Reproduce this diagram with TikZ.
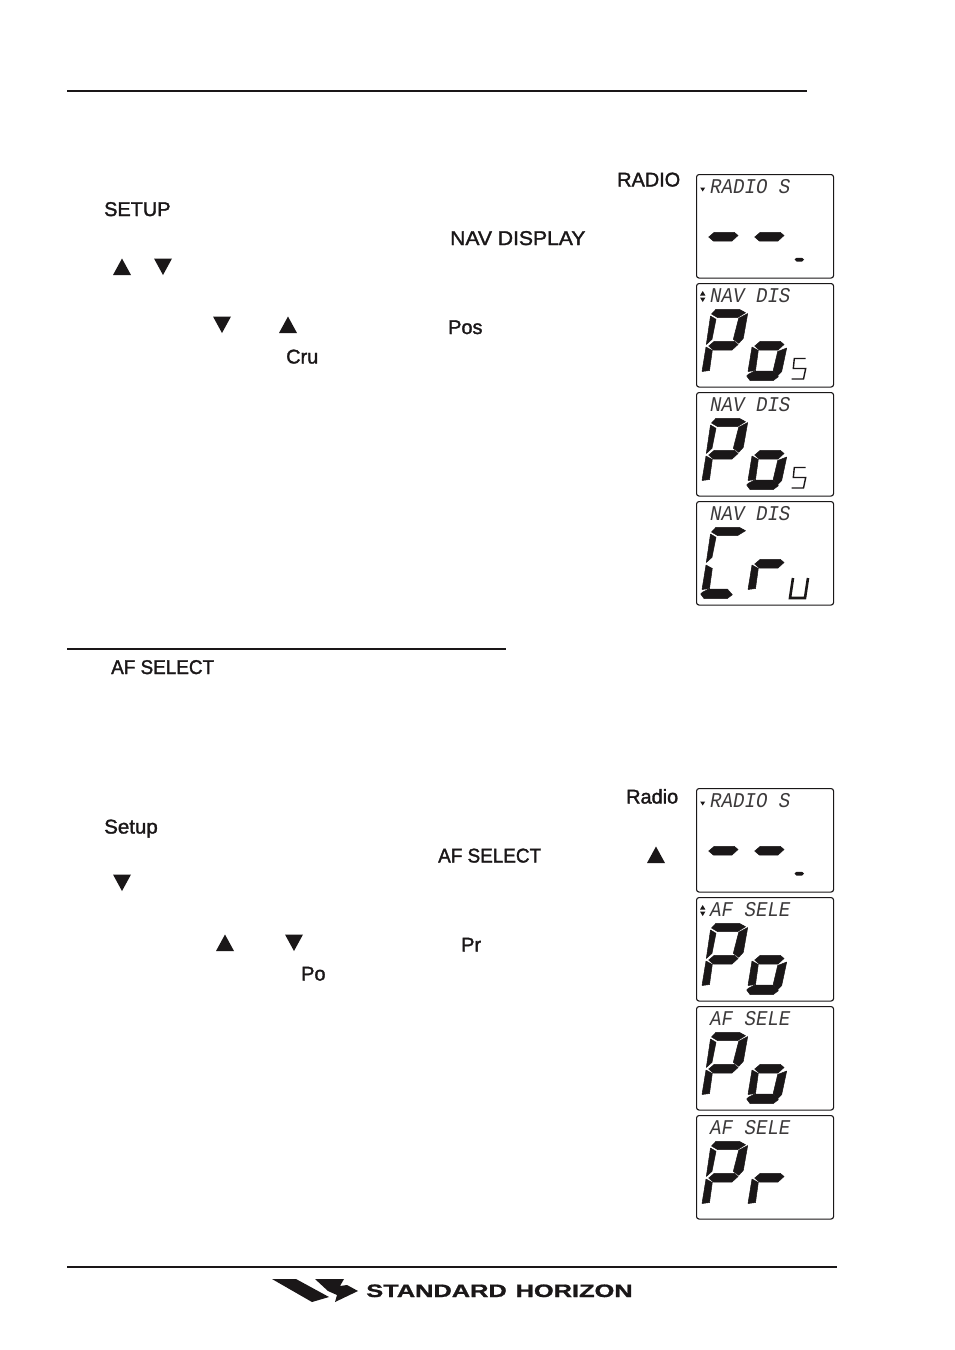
\documentclass[tikz,border=0pt]{standalone}
\usepackage{fontspec}
\setmainfont{Liberation Sans}
\newfontfamily\manualfont[FakeBold=1.6]{Liberation Sans}
\newfontfamily\logofont[FakeBold=1]{Liberation Sans Bold}
\newfontfamily\lcdfont{Liberation Mono Italic}
\definecolor{ink}{HTML}{1A1718}
\newcommand{\sA}{(15.5,31)--(20,26.3)--(43.3,26.3)--(49.5,29.7)--(41.7,34.5)--(21.5,34.5)--cycle}
\newcommand{\sB}{(51.7,30.5)--(47.3,55.3)--(42.7,60.3)--(37.3,56.3)--(42.7,35.3)--cycle}
\newcommand{\sF}{(14.5,33)--(20,36.3)--(16,56.3)--(10.3,61.5)--cycle}
\newcommand{\sG}{(12.7,63)--(18.3,58.3)--(38.3,58.3)--(42,61.5)--(36,67)--(17.3,67)--cycle}
\newcommand{\sE}{(10,64)--(16.3,67.5)--(13.5,87.5)--(6,88.5)--cycle}
\newcommand{\sC}{(44.7,65)--(39.7,88.5)--(35.7,92.7)--(31.3,87)--(35.7,68.5)--cycle}
\newcommand{\sD}{(6.3,91.3)--(13,88)--(31.3,88)--(36.3,93.7)--(31.3,97.5)--(8,97.5)--(4.7,93)--cycle}
\newcommand{\digit}[3]{\filldraw[lcdseg,shift={(#1,#2)}] #3;}
\newcommand{\lcdbox}[4]{%
  \node[screen] (#1) at (696,#2) {};
  \begin{scope}[shift={(696,#2)}]
    \node[lcdtext] (#1label) at (14,13) {#3};
    #4
  \end{scope}}
\newcommand{\arrowdown}{\fill[ink] (4,14.5)--(9.4,14.5)--(6.7,19)--cycle;}
\newcommand{\arrowup}{\fill[ink] (4,12.5)--(9.4,12.5)--(6.7,8)--cycle;}
\newcommand{\fives}{\draw[smallseg] (109.7,75.5)--(98.3,75.5)--(97.3,85.5)--(109.7,85.5)--(107.5,96)--(95.5,96);}
\newcommand{\dashes}{\digit{0}{0}{\sG}\digit{46}{0}{\sG}\fill[ink] (98.5,85.5)--(100.5,83.8)--(106,83.8)--(108,85.5)--(106,87.5)--(100.5,87.5)--cycle;}
\tikzset{
  manual/.style={anchor=base west,inner sep=0pt,text=ink,font=\fontsize{19.9}{20}\manualfont},
  rule/.style={draw=ink,line width=2pt},
  screen/.style={draw=ink,fill=white,line width=1.1pt,rounded corners=2.5pt,anchor=north west,minimum width=137pt,minimum height=103.5pt,inner sep=0pt},
  lcdtext/.style={anchor=west,inner sep=0pt,text=ink!85,font=\fontsize{21}{21}\lcdfont,xscale=.91,transform shape},
  lcdseg/.style={fill=ink,draw=ink,line width=0.5pt,line join=round},
  smallseg/.style={draw=ink,line width=1.4pt},
  tri/.style={fill=ink},
  wide/.style={xscale=#1,transform shape}
}
\newcommand{\triup}[2]{\fill[tri] (#1-9,#2+8)--(#1+9,#2+8)--(#1,#2-8.5)--cycle;}
\newcommand{\tridown}[2]{\fill[tri] (#1-9,#2-8.5)--(#1+9,#2-8.5)--(#1,#2+8)--cycle;}
\begin{document}
\begin{tikzpicture}[x=1pt,y=-1pt]
\useasboundingbox (0,0) rectangle (954,1350);
\fill[white] (0,0) rectangle (954,1350);
% rules
\draw[rule] (67,91)--(807,91);
\draw[rule] (67,649)--(506,649);
\draw[rule] (67,1267)--(837,1267);
% text, first section
\node[manual] (radio) at (617,186.5) {RADIO};
\node[manual] (setup) at (104,216) {SETUP};
\node[manual,wide=1.06] (navdisplay) at (450,245) {NAV DISPLAY};
\node[manual] (pos) at (448,334) {Pos};
\node[manual] (cru) at (286,363.5) {Cru};
\triup{122}{267}
\tridown{163}{267}
\tridown{222}{325}
\triup{288}{325}
% second section
\node[manual,wide=.95] (afselect) at (111,674) {AF SELECT};
\node[manual] (radiob) at (626,803.5) {Radio};
\node[manual,wide=1.03] (setupb) at (104,833.5) {Setup};
\node[manual,wide=.95] (afselectb) at (438,862.5) {AF SELECT};
\node[manual] (pr) at (461,951.5) {Pr};
\node[manual] (po) at (301,980.5) {Po};
\triup{656}{855}
\tridown{122}{883}
\triup{225}{943}
\tridown{294}{943}
% screens
\lcdbox{s1}{174}{RADIO S}{\fill[ink] (4.2,13.5)--(9.2,13.5)--(6.7,17.5)--cycle; \dashes}
\lcdbox{s2}{283}{NAV DIS}{\arrowup\arrowdown
  \digit{0}{0}{\sA \sB \sF \sG \sE}
  \digit{46}{0}{\sG \sE \sC \sD}
  \fives}
\lcdbox{s3}{392}{NAV DIS}{
  \digit{0}{0}{\sA \sB \sF \sG \sE}
  \digit{46}{0}{\sG \sE \sC \sD}
  \fives}
\lcdbox{s4}{501}{NAV DIS}{
  \digit{0}{0}{\sA \sF \sE \sD}
  \digit{46}{0}{\sG \sE}
  \draw[smallseg,line width=2.6pt] (97,77)--(94,97)--(109,97)--(112,77);}
\lcdbox{s5}{788}{RADIO S}{\fill[ink] (4.2,13.5)--(9.2,13.5)--(6.7,17.5)--cycle; \dashes}
\lcdbox{s6}{897}{AF SELE}{\arrowup\arrowdown
  \digit{0}{0}{\sA \sB \sF \sG \sE}
  \digit{46}{0}{\sG \sE \sC \sD}}
\lcdbox{s7}{1006}{AF SELE}{
  \digit{0}{0}{\sA \sB \sF \sG \sE}
  \digit{46}{0}{\sG \sE \sC \sD}}
\lcdbox{s8}{1115}{AF SELE}{
  \digit{0}{0}{\sA \sB \sF \sG \sE}
  \digit{46}{0}{\sG \sE}}
% logo
\fill[ink] (272,1279)--(296,1279)--(329,1297)--(312,1302)--cycle;
\fill[ink] (315,1279)--(344,1279)--(340,1286)--(347,1285)--(358,1291)--(335,1302)--(337,1295)--(328,1291)--cycle;
\node[anchor=base west,inner sep=0pt,text=ink,font=\fontsize{18}{18}\logofont,xscale=1.41,transform shape] (logotext) at (366,1297) {STANDARD\hspace{0.35em}HORIZON};
\end{tikzpicture}
\end{document}
